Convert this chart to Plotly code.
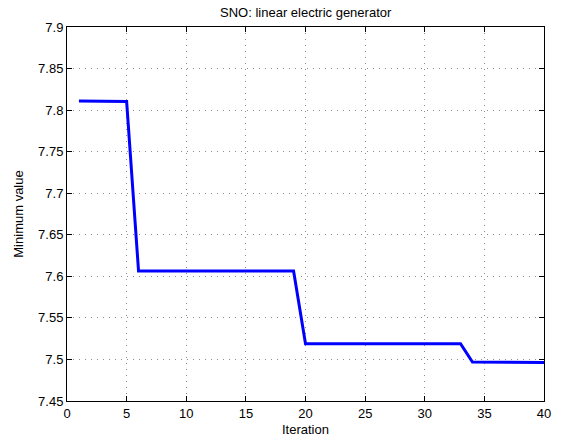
import plotly.graph_objects as go

# Best objective value found at each iteration
iterations = list(range(1, 41))
min_values = (
    [7.8111, 7.8110, 7.8110, 7.8109, 7.8105]
    + [7.6063] * 14
    + [7.5190] * 14
    + [7.4968, 7.4967, 7.4966, 7.4966, 7.4965, 7.4964, 7.4963]
)

x_ticks = [0, 5, 10, 15, 20, 25, 30, 35, 40]
y_ticks = [7.45, 7.5, 7.55, 7.6, 7.65, 7.7, 7.75, 7.8, 7.85, 7.9]
y_tick_labels = ["7.45", "7.5", "7.55", "7.6", "7.65", "7.7", "7.75", "7.8", "7.85", "7.9"]

family = "Liberation Sans, Arial, Helvetica, sans-serif"
font = dict(family=family, size=13, color="black")

fig = go.Figure()
fig.add_trace(go.Scatter(
    x=iterations, y=min_values, mode="lines",
    line=dict(color="#0000ff", width=3),
    showlegend=False,
))

axis_common = dict(
    showline=True, linecolor="black", linewidth=1, mirror="ticks",
    ticks="inside", ticklen=5, tickcolor="black",
    showgrid=True, gridcolor="#8c8c8c", griddash="1px,5px", gridwidth=1,
    zeroline=False, tickfont=font,
)

fig.update_layout(
    width=564, height=447,
    margin=dict(l=67, r=20, t=27, b=41),
    paper_bgcolor="white", plot_bgcolor="white",
    font=font,
    title=dict(text="SNO: linear electric generator", x=0.542, xanchor="center",
               y=0.972, yanchor="middle", font=dict(family=family, size=13, color="black")),
    xaxis=dict(range=[0, 40], tickvals=x_ticks,
               title=dict(text="Iteration", standoff=5, font=dict(family=family, size=13, color="black")),
               **axis_common),
    yaxis=dict(range=[7.45, 7.9], tickvals=y_ticks, ticktext=y_tick_labels,
               title=dict(text="Minimum value", standoff=11, font=dict(family=family, size=13, color="black")),
               **axis_common),
)

fig.write_html("out.html")
